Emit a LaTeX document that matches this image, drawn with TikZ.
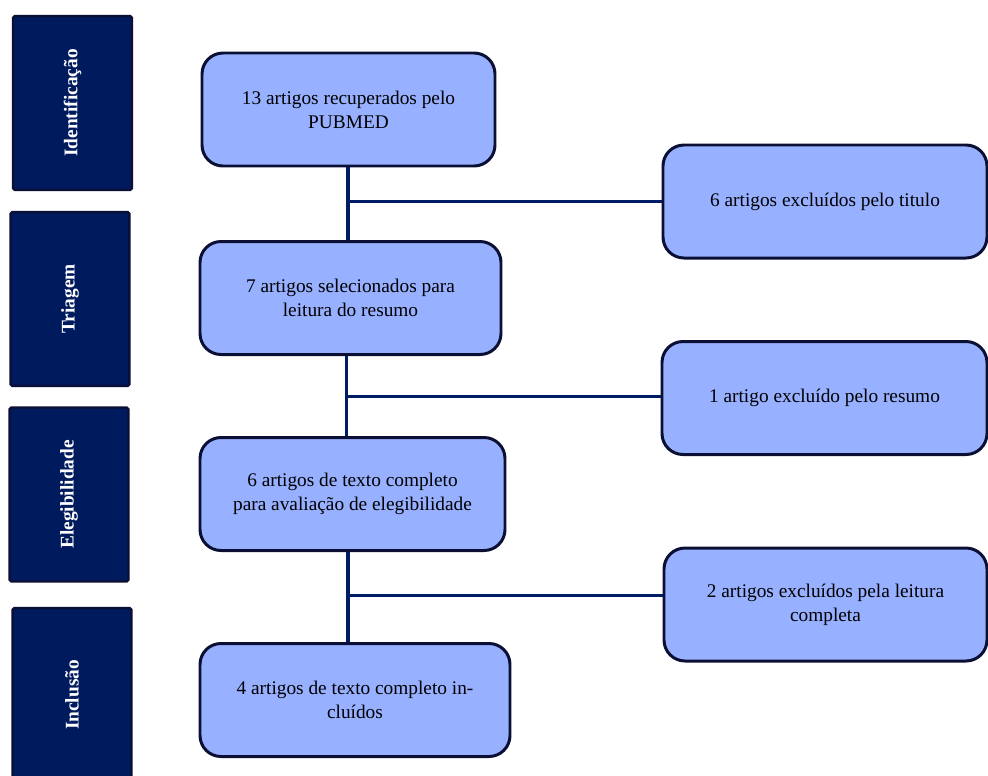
\documentclass[tikz,border=0pt]{standalone}
\usepackage{fontspec}
\setmainfont{Liberation Serif}
\usepackage{xcolor}
\usepackage{tikz}
\usetikzlibrary{shapes, arrows}

\definecolor{boxblue}{HTML}{97B0FF}
\definecolor{stagenavy}{HTML}{001A5E}
\definecolor{linenavy}{HTML}{001C66}
\definecolor{edgenavy}{HTML}{0A0F33}

\begin{document}
\begin{tikzpicture}[auto,
        stagebox/.style = {rectangle, draw=edgenavy, line width=1.4pt, fill=stagenavy, rounded corners=1pt, minimum width=2.38cm, minimum height=3.48cm},
        stagetext/.style = {text=white, font=\fontsize{11}{13.6}\selectfont\bfseries, rotate=90},
        flowbox/.style = {rectangle, draw=edgenavy, line width=1.7pt, fill=boxblue, rounded corners=0.42cm, minimum height=2.26cm, align=center, font=\fontsize{11}{13.6}\selectfont},
        link/.style = {draw=linenavy, line width=2.2pt}]
        \useasboundingbox (0,0) rectangle (19.76,-15.52);
        % Stages
        \node [stagebox] (ident) at (1.45,-2.06) {};
        \node [stagebox] (triag) at (1.40,-5.98) {};
        \node [stagebox] (eleg) at (1.38,-9.89) {};
        \node [stagebox] (incl) at (1.44,-13.90) {};
        \node [stagetext] at (ident) {Identificação};
        \node [stagetext] at (triag) {Triagem};
        \node [stagetext] at (eleg) {Elegibilidade};
        \node [stagetext] at (incl) {Inclusão};

        % Nodes
        \node [flowbox, minimum width=5.86cm] (recuperados) at (6.97,-2.19) {13 artigos recuperados pelo\\PUBMED};
        \node [flowbox, minimum width=6.02cm] (selecionados) at (7.01,-5.96) {7 artigos selecionados para\\leitura do resumo};
        \node [flowbox, minimum width=6.10cm] (avaliacao) at (7.05,-9.88) {6 artigos de texto completo\\para avaliação de elegibilidade};
        \node [flowbox, minimum width=6.20cm] (incluidos) at (7.10,-14.00) {4 artigos de texto completo in-\\cluídos};
        \node [flowbox, minimum width=6.48cm] (extitulo) at (16.50,-4.03) {6 artigos excluídos pelo titulo};
        \node [flowbox, minimum width=6.50cm] (exresumo) at (16.49,-7.96) {1 artigo excluído pelo resumo};
        \node [flowbox, minimum width=6.46cm] (exleitura) at (16.51,-12.09) {2 artigos excluídos pela leitura\\completa};

        % Lines
        \coordinate (split1) at (6.96,-4.03);
        \coordinate (split2) at (6.93,-7.93);
        \coordinate (split3) at (6.96,-11.91);
        \path [link] (recuperados.south -| split1) -- (selecionados.north -| split1);
        \path [link] (split1) -- (extitulo.west |- split1);
        \path [link] (selecionados.south -| split2) -- (avaliacao.north -| split2);
        \path [link] (split2) -- (exresumo.west |- split2);
        \path [link] (avaliacao.south -| split3) -- (incluidos.north -| split3);
        \path [link] (split3) -- (exleitura.west |- split3);
    \end{tikzpicture}
\end{document}
